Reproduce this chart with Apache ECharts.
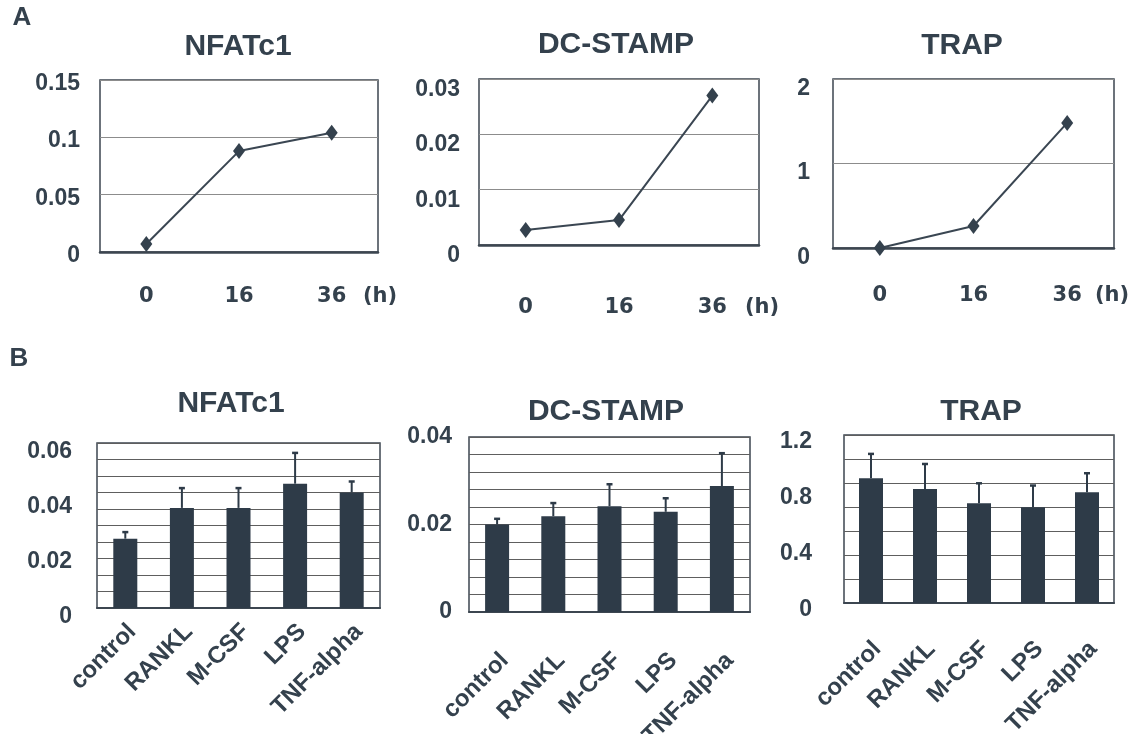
<!DOCTYPE html>
<html><head><meta charset="utf-8">
<script src="https://cdn.jsdelivr.net/npm/echarts@6/dist/echarts.min.js"></script>
<style>html,body{margin:0;padding:0;background:#fff}#c{width:1134px;height:734px}</style>
</head><body><div id="c"></div>
<script>
// ---- Panel A: time course (h) ----
const timeLabels = ['0', '16', '36'];
const nfatcTime = [0.007, 0.088, 0.104];
const dcstampTime = [0.0027, 0.0045, 0.027];
const trapTime = [0.0, 0.26, 1.48];

// ---- Panel B: treatments (mean and SD) ----
const treatments = ['control', 'RANKL', 'M-CSF', 'LPS', 'TNF-alpha'];
const nfatcMean = [0.0252, 0.0364, 0.0364, 0.0452, 0.042];
const nfatcSD = [0.0024, 0.0072, 0.0072, 0.0112, 0.004];
const dcstampMean = [0.0200, 0.0219, 0.0242, 0.0229, 0.0288];
const dcstampSD = [0.0013, 0.0030, 0.0050, 0.0031, 0.0075];
const trapMean = [0.891, 0.815, 0.713, 0.684, 0.791];
const trapSD = [0.174, 0.178, 0.142, 0.155, 0.136];

// ---- axis ticks ----
const yTicksA = [{max: 0.15, step: 0.05}, {max: 0.03, step: 0.01}, {max: 2, step: 1}];
const yTicksB = [{max: 0.06, step: 0.02, grid: 10}, {max: 0.04, step: 0.02, grid: 10}, {max: 1.2, step: 0.4, grid: 7}];

const INK = '#34414d';
const BAR = '#2e3b48';
const FONT = "'Liberation Sans', Arial, sans-serif";
const WIDE = "'DejaVu Sans', sans-serif";

const chart = echarts.init(document.getElementById('c'), null, {renderer: 'canvas'});

const gridsA = [
  {left: 100, top: 80, width: 278, height: 172},
  {left: 479, top: 79, width: 280, height: 166},
  {left: 833, top: 79, width: 281, height: 169}
];
const gridsB = [
  {left: 97, top: 443, width: 283, height: 165},
  {left: 469, top: 437, width: 281, height: 175},
  {left: 844, top: 435, width: 270, height: 168}
];
const xMarginA = [34, 52, 37];
const nameGapA = [-15, -14, -19];
const yMarginA = [20, 19, 23];
const yShiftA = [7, 21, 19];      // label lineHeight (vertical shift of tick labels)
const yMarginB = [25, 17, 32];
const yShiftB = [17, 0, 13];
const xMarginB = [13, 37, 36];
const xShiftB = [20, 22, 18];

const grid = [], xAxis = [], yAxis = [], series = [];
const timeSeries = [nfatcTime, dcstampTime, trapTime];
const means = [nfatcMean, dcstampMean, trapMean];
const sds = [nfatcSD, dcstampSD, trapSD];

function errRender(params, api) {
  const x = api.value(0), m = api.value(1), t = api.value(2);
  const p0 = api.coord([x, m]);
  const p1 = api.coord([x, t]);
  const cap = 3;
  return {type: 'group', children: [
    {type: 'line', shape: {x1: p0[0], y1: p0[1], x2: p1[0], y2: p1[1]}, style: {stroke: BAR, lineWidth: 2}},
    {type: 'line', shape: {x1: p1[0] - cap, y1: p1[1], x2: p1[0] + cap, y2: p1[1]}, style: {stroke: BAR, lineWidth: 2.5}}
  ]};
}

function yLabel(margin, shift) {
  const o = {margin: margin, color: INK, fontFamily: FONT, fontWeight: 'bold', fontSize: 23};
  if (shift) { o.verticalAlign = 'top'; o.lineHeight = shift; }
  return o;
}

const gridBase = {show: true, borderColor: '#3c4650', borderWidth: 1.5, backgroundColor: '#fff', containLabel: false, outerBoundsMode: 'none'};

// Panel A
for (let i = 0; i < 3; i++) {
  grid.push(Object.assign({}, gridBase, gridsA[i]));
  xAxis.push({
    type: 'category', gridIndex: i, data: timeLabels, boundaryGap: true,
    axisLine: {show: true, lineStyle: {color: '#3c4650', width: 2.5}},
    axisTick: {show: false},
    axisLabel: {margin: xMarginA[i], color: INK, fontFamily: WIDE, fontWeight: 'bold', fontSize: 21},
    name: '(h)', nameLocation: 'end', nameGap: nameGapA[i],
    nameTextStyle: {color: INK, fontFamily: WIDE, fontWeight: 'bold', fontSize: 21, align: 'left', verticalAlign: 'top', lineHeight: 21 + 2 * xMarginA[i]}
  });
  yAxis.push({
    type: 'value', gridIndex: i, min: 0, max: yTicksA[i].max, interval: yTicksA[i].step,
    axisLine: {show: false}, axisTick: {show: false},
    splitLine: {show: true, lineStyle: {color: '#8c8c8c', width: 1}},
    axisLabel: yLabel(yMarginA[i], yShiftA[i])
  });
  series.push({
    type: 'line', xAxisIndex: i, yAxisIndex: yAxis.length - 1, data: timeSeries[i],
    symbol: 'diamond', symbolSize: [12, 16],
    lineStyle: {color: '#3a4652', width: 2}, itemStyle: {color: '#34414d'}
  });
}

// Panel B
for (let i = 0; i < 3; i++) {
  const gi = 3 + i;
  grid.push(Object.assign({}, gridBase, gridsB[i]));
  xAxis.push({
    type: 'category', gridIndex: gi, data: treatments, boundaryGap: true,
    axisLine: {show: true, lineStyle: {color: '#3c4650', width: 2}},
    axisTick: {show: false},
    axisLabel: {rotate: 45, interval: 0, margin: xMarginB[i], verticalAlign: 'top', lineHeight: xShiftB[i],
      color: INK, fontFamily: FONT, fontWeight: 'bold', fontSize: 24}
  });
  const gridAxisIdx = yAxis.length;
  yAxis.push({
    type: 'value', gridIndex: gi, min: 0, max: yTicksB[i].max, interval: yTicksB[i].max / yTicksB[i].grid,
    axisLine: {show: false}, axisTick: {show: false}, axisLabel: {show: false},
    splitLine: {show: true, lineStyle: {color: '#5e5e5e', width: 1}}
  });
  yAxis.push({
    type: 'value', gridIndex: gi, min: 0, max: yTicksB[i].max, interval: yTicksB[i].step, position: 'left',
    axisLine: {show: false}, axisTick: {show: false}, splitLine: {show: false},
    axisLabel: yLabel(yMarginB[i], yShiftB[i])
  });
  series.push({
    type: 'bar', xAxisIndex: gi, yAxisIndex: gridAxisIdx, data: means[i], barWidth: 24,
    itemStyle: {color: BAR}, z: 2
  });
  series.push({
    type: 'custom', xAxisIndex: gi, yAxisIndex: gridAxisIdx, renderItem: errRender,
    encode: {x: 0, y: 1},
    data: means[i].map((m, k) => [k, m, m + sds[i][k]]), z: 3
  });
}

const titleFont = "bold 30px 'Liberation Sans', Arial, sans-serif";
const titles = [
  ['NFATc1', 238, 47], ['DC-STAMP', 616, 45], ['TRAP', 962, 46],
  ['NFATc1', 231, 404], ['DC-STAMP', 606, 412], ['TRAP', 981, 412]
];
const graphic = titles.map(t => ({type: 'text', x: t[1], y: t[2],
  style: {text: t[0], fill: INK, font: titleFont, textAlign: 'center', textVerticalAlign: 'middle'}}));
graphic.push({type: 'text', x: 22, y: 18, style: {text: 'A', fill: INK, font: "bold 26px 'Liberation Sans', Arial, sans-serif", textAlign: 'center', textVerticalAlign: 'middle'}});
graphic.push({type: 'text', x: 19, y: 359, style: {text: 'B', fill: INK, font: "bold 26px 'Liberation Sans', Arial, sans-serif", textAlign: 'center', textVerticalAlign: 'middle'}});

chart.setOption({
  animation: false,
  backgroundColor: '#fff',
  grid, xAxis, yAxis, series, graphic
});
</script>
</body></html>
